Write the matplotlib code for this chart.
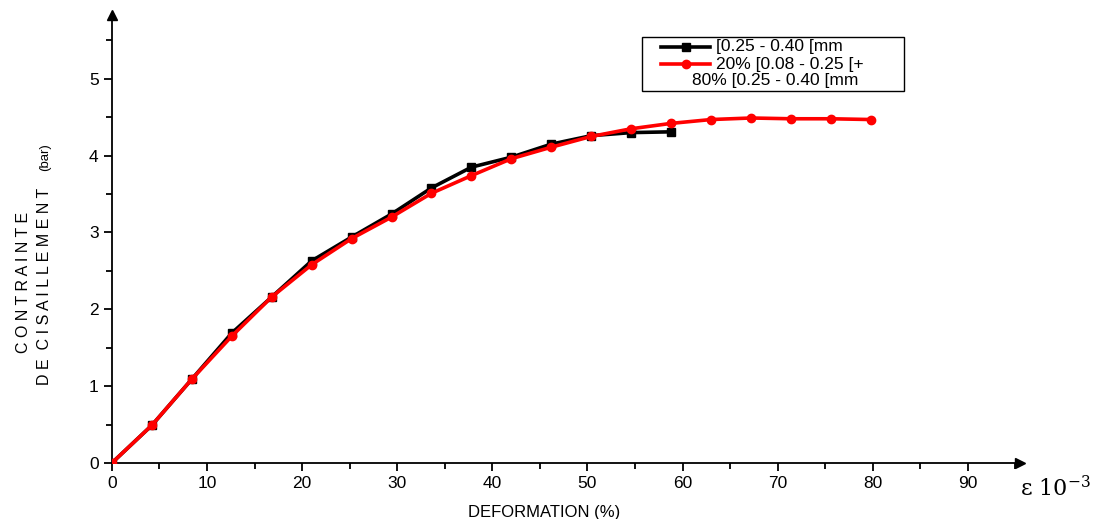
#!/usr/bin/env python

import matplotlib
matplotlib.use("Agg")
import matplotlib.pyplot as plt
from matplotlib.ticker import MultipleLocator
from matplotlib.lines import Line2D
from matplotlib.patches import Rectangle

# deformation (x 10^-3) and shear stress (bar)
deform_a = [0, 4.2, 8.4, 12.6, 16.8, 21.0, 25.2, 29.4, 33.6, 37.8,
            42.0, 46.2, 50.4, 54.6, 58.8]
stress_a = [0, 0.49, 1.09, 1.69, 2.16, 2.63, 2.94, 3.24, 3.58, 3.85,
            3.98, 4.15, 4.26, 4.30, 4.31]

deform_b = [0, 4.2, 8.4, 12.6, 16.8, 21.0, 25.2, 29.4, 33.6, 37.8,
            42.0, 46.2, 50.4, 54.6, 58.8, 63.0, 67.2, 71.4, 75.6, 79.8]
stress_b = [0, 0.49, 1.09, 1.65, 2.16, 2.58, 2.92, 3.20, 3.51, 3.74,
            3.96, 4.11, 4.25, 4.35, 4.42, 4.47, 4.49, 4.48, 4.48, 4.47]

label_a = "[0.25 - 0.40 [mm"
label_b1 = "20% [0.08 - 0.25 [+"
label_b2 = "80% [0.25 - 0.40 [mm"

plt.rcParams['font.family'] = ['Liberation Sans', 'DejaVu Sans']
plt.rcParams['mathtext.fontset'] = 'dejavuserif'

W, H = 1097, 519
fig = plt.figure(figsize=(W / 100, H / 100), dpi=100)
ax = fig.add_axes([0.102, 0.108, 0.828, 0.863])

ax.plot(deform_a, stress_a, color='black', lw=2.6, marker='s', ms=5.5, zorder=3)
ax.plot(deform_b, stress_b, color='red', lw=2.6, marker='o', ms=6, zorder=4)

ax.set_xlim(0, 95.5)
ax.set_ylim(0, 5.83)
ax.spines['top'].set_visible(False)
ax.spines['right'].set_visible(False)
ax.spines['left'].set_linewidth(1.3)
ax.spines['bottom'].set_linewidth(1.3)
# arrow heads at the axis ends
ax.plot(1, 0, '>k', ms=7, transform=ax.transAxes, clip_on=False)
ax.plot(0, 1, '^k', ms=7, transform=ax.transAxes, clip_on=False)

ax.xaxis.set_minor_locator(MultipleLocator(5))
ax.yaxis.set_minor_locator(MultipleLocator(0.5))
ax.set_xticks(range(0, 91, 10))
ax.set_yticks(range(0, 6))
ax.tick_params(which='major', direction='out', length=6, width=1.3, labelsize=12.5)
ax.tick_params(which='minor', direction='out', length=4, width=1.3)

fig.text(0.496, 0.013, "DEFORMATION (%)", fontsize=12, ha='center', va='center')
fig.text(0.930, 0.058, r"ε 10$^{-3}$", fontsize=16, family='DejaVu Serif',
         ha='left', va='center')

fig.text(0.021, 0.455, "C O N T R A I N T E", rotation=90, fontsize=11.5,
         ha='center', va='center')
fig.text(0.041, 0.258, "D E  C I S A I L L E M E N T", rotation=90, fontsize=11.5,
         ha='center', va='bottom')
fig.text(0.041, 0.67, "(bar)", rotation=90, fontsize=9.5, ha='center', va='bottom')

# legend box drawn by hand (figure pixel layout of the original)
def fx(px):
    return px / W


def fy(py):
    return 1 - py / H


fig.add_artist(Rectangle((fx(642), fy(91)), fx(904) - fx(642), fy(37) - fy(91),
                         transform=fig.transFigure, fill=False, ec='black', lw=1.0))
fig.add_artist(Line2D([fx(661), fx(710)], [fy(47), fy(47)], color='black', lw=2.6,
                      transform=fig.transFigure))
fig.add_artist(Line2D([fx(685.5)], [fy(47)], color='black', marker='s', ms=5.5,
                      transform=fig.transFigure))
fig.add_artist(Line2D([fx(661), fx(710)], [fy(64), fy(64)], color='red', lw=2.6,
                      transform=fig.transFigure))
fig.add_artist(Line2D([fx(685.5)], [fy(64)], color='red', marker='o', ms=6,
                      transform=fig.transFigure))
fig.text(fx(716), fy(47), label_a, fontsize=12.5, ha='left', va='center')
fig.text(fx(716), fy(64), label_b1, fontsize=12.5, ha='left', va='center')
fig.text(fx(775), fy(81), label_b2, fontsize=12.5, ha='center', va='center')

fig.savefig("out.png", dpi=100)
